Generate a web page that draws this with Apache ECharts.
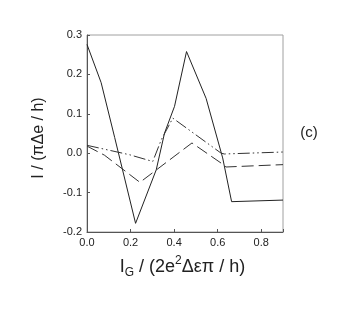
<!DOCTYPE html>
<html>
<head>
<meta charset="utf-8">
<script src="https://cdn.jsdelivr.net/npm/echarts@6/dist/echarts.min.js"></script>
<style>
html,body{margin:0;padding:0;background:#fff;}
#c{width:354px;height:316px;}
</style>
</head>
<body>
<div id="c"></div>
<script>
// Data
const xTicks = [0.0, 0.2, 0.4, 0.6, 0.8];
const yTicks = [-0.2, -0.1, 0.0, 0.1, 0.2, 0.3];
const solidX = [0.0, 0.065, 0.127, 0.223, 0.318, 0.356, 0.402, 0.457, 0.547, 0.623, 0.664, 0.9];
const solidY = [0.276, 0.179, 0.04, -0.178, -0.042, 0.051, 0.119, 0.258, 0.139, -0.012, -0.123, -0.119];
const dashDotX = [0.0, 0.196, 0.302, 0.341, 0.394, 0.616, 0.631, 0.9];
const dashDotY = [0.02, -0.004, -0.021, 0.034, 0.089, 0.0, -0.002, 0.003];
const dashX = [0.0, 0.08, 0.243, 0.482, 0.626, 0.638, 0.9];
const dashY = [0.018, -0.005, -0.074, 0.026, -0.029, -0.035, -0.029];
const panelLabel = '(c)';
const yTitle = 'I / (πΔe / h)';

const zip = (xs, ys) => xs.map((x, i) => [x, ys[i]]);
const chart = echarts.init(document.getElementById('c'), null, {renderer: 'canvas'});
const font = 'Liberation Sans, Arial, Helvetica, sans-serif';
const lineBase = {type: 'line', symbol: 'none', silent: true, animation: false};
chart.setOption({
  animation: false,
  backgroundColor: '#fff',
  grid: {left: 87, top: 35, width: 196, height: 197, show: true, borderColor: '#a0a0a0', borderWidth: 1},
  xAxis: {
    type: 'value', min: 0, max: 0.9, interval: 0.2,
    axisLine: {show: true, onZero: false, lineStyle: {color: '#555', width: 1}},
    axisTick: {show: true, inside: true, length: 3, lineStyle: {color: '#555'}},
    splitLine: {show: false},
    axisLabel: {color: '#222', fontSize: 11, fontFamily: font, margin: 5,
      formatter: v => xTicks.some(t => Math.abs(t - v) < 1e-9) ? v.toFixed(1) : ''}
  },
  yAxis: {
    type: 'value', min: -0.2, max: 0.3, interval: 0.1,
    axisLine: {show: true, onZero: false, lineStyle: {color: '#555', width: 1}},
    axisTick: {show: true, inside: true, length: 3, lineStyle: {color: '#555'}},
    splitLine: {show: false},
    axisLabel: {color: '#222', fontSize: 11, fontFamily: font, margin: 5,
      formatter: v => yTicks.some(t => Math.abs(t - v) < 1e-9) ? (Math.abs(v) < 1e-9 ? '0.0' : v.toFixed(1)) : ''}
  },
  graphic: [
    {
      type: 'text', x: 309, y: 133,
      style: {text: panelLabel, fill: '#222', font: '15px ' + font, align: 'center', verticalAlign: 'middle'}
    },
    {
      type: 'text', x: 39, y: 138, rotation: Math.PI / 2,
      style: {text: yTitle, fill: '#222', font: '16px ' + font, align: 'center', verticalAlign: 'middle'}
    },
    {
      type: 'text', x: 182.5, y: 267,
      style: {
        text: '{a|I}{sub|G}{a| / (2e}{sup|2}{a|Δεπ / h)}',
        align: 'center', verticalAlign: 'middle', fill: '#222',
        rich: {
          a: {fontSize: 18, fontFamily: font, fill: '#222', lineHeight: 24, verticalAlign: 'middle'},
          sub: {fontSize: 12, fontFamily: font, fill: '#222', lineHeight: 24, verticalAlign: 'bottom'},
          sup: {fontSize: 12, fontFamily: font, fill: '#222', lineHeight: 22, verticalAlign: 'top'}
        }
      }
    }
  ],
  series: [
    Object.assign({}, lineBase, {data: zip(solidX, solidY), lineStyle: {color: '#222', width: 1, type: 'solid'}}),
    Object.assign({}, lineBase, {data: zip(dashDotX, dashDotY), lineStyle: {color: '#333', width: 1, type: [12, 3, 1.5, 3, 1.5, 3]}}),
    Object.assign({}, lineBase, {data: zip(dashX, dashY), lineStyle: {color: '#333', width: 1, type: [12, 5]}})
  ]
});
</script>
</body>
</html>
